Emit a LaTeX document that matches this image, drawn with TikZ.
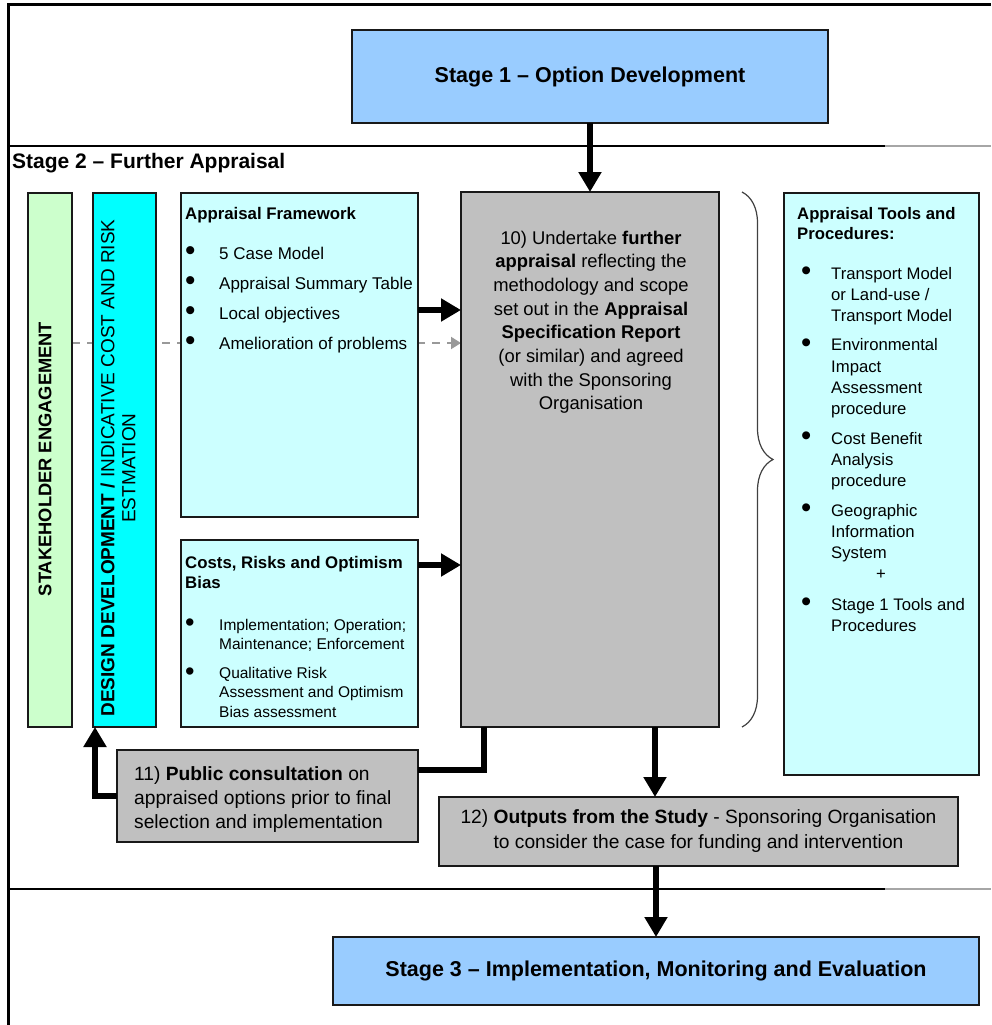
\documentclass[tikz,border=0pt]{standalone}
\usepackage{fontspec}
\setmainfont{Liberation Sans}
\usetikzlibrary{arrows.meta,decorations.pathreplacing,backgrounds,calc}
\definecolor{stageblue}{HTML}{99CCFF}
\definecolor{palecyan}{HTML}{CCFFFF}
\definecolor{palegreen}{HTML}{CCFFCC}
\definecolor{boxgray}{HTML}{C0C0C0}
\definecolor{brightcyan}{HTML}{00FFFF}
\definecolor{edgegray}{HTML}{999999}
\newcommand{\fsz}[2]{\fontsize{#1}{#2}\selectfont}
\newcommand{\blt}{\raisebox{-1.5pt}{\scalebox{1.75}{\textbullet}}}
\begin{document}
\begin{tikzpicture}[x=1pt,y=-1pt,
  box/.style={draw=black!90, line width=1.6pt, anchor=north west, inner sep=0pt, outer sep=0pt},
  txt/.style={anchor=base west, inner sep=0pt},
  arr/.style={line width=6.5pt, -{Triangle[width=22pt,length=20pt]}},
  thickline/.style={line width=6.5pt},
  dashedarr/.style={line width=2pt, draw=edgegray, dash pattern=on 8pt off 7pt, -{Triangle[width=12pt,length=10pt]}},
  sep/.style={line width=1.5pt},
  sepfade/.style={line width=1.5pt, draw=black!35}
]
\useasboundingbox (0,0) rectangle (991,1025);
% frame
\draw[line width=3pt] (8,1025) -- (8,5) -- (991,5);
\draw[sep] (8,146) -- (885,146);
\draw[sepfade] (885,146) -- (991,146);
\draw[sep] (8,889) -- (885,889);
\draw[sepfade] (885,889) -- (991,889);

% stage 1
\node[box, fill=stageblue, minimum width=476pt, minimum height=93pt, font=\bfseries\fsz{21.5}{25}] (s1) at (352,30) {Stage 1 – Option Development};
\node[txt, font=\bfseries\fsz{21}{24}] (st2) at (12,168) {Stage 2 – Further Appraisal};

% vertical bars
\node[box, fill=palegreen, minimum width=44pt, minimum height=534pt] (sh) at (28,193) {};
\node[rotate=90, font=\bfseries\fsz{18.3}{21}, inner sep=0pt] (sht) at (45,459) {STAKEHOLDER ENGAGEMENT};
\node[box, fill=brightcyan, minimum width=63pt, minimum height=534pt] (dd) at (93,193) {};
\node[rotate=90, align=center, font=\fsz{19}{21}, inner sep=0pt] (ddt) at (118,468) {\textbf{DESIGN DEVELOPMENT /} INDICATIVE COST AND RISK\\ESTMATION};

% appraisal framework
\node[box, fill=palecyan, minimum width=237pt, minimum height=324pt] (af) at (181,193) {};
\node[txt, font=\bfseries\fsz{16.8}{20}] (aft) at (185,219) {Appraisal Framework};
\node[txt, font=\fsz{17}{30}] (afl) at (185,259) {\begin{tabular}[t]{@{}p{34pt}@{}l@{}}
\blt & 5 Case Model\\
\blt & Appraisal Summary Table\\
\blt & Local objectives\\
\blt & Amelioration of problems
\end{tabular}};

% costs
\node[box, fill=palecyan, minimum width=237pt, minimum height=187pt] (cr) at (181,540) {};
\node[txt, font=\bfseries\fsz{16.8}{20}] (crt) at (185,568) {\begin{tabular}[t]{@{}l@{}}Costs, Risks and Optimism\\Bias\end{tabular}};
\node[txt, font=\fsz{15.5}{19.3}] (crl) at (185,630) {\begin{tabular}[t]{@{}p{34pt}@{}l@{}}
\blt & Implementation; Operation;\\
 & Maintenance; Enforcement\\[10pt]
\blt & Qualitative Risk\\
 & Assessment and Optimism\\
 & Bias assessment
\end{tabular}};

% central box
\node[box, fill=boxgray, minimum width=258pt, minimum height=535pt] (c) at (461,192) {};
\node[anchor=base, inner sep=0pt, font=\fsz{18.4}{23.7}] (ct) at (591,244) {\begin{tabular}[t]{@{}c@{}}
10) Undertake \textbf{further}\\
\textbf{appraisal} reflecting the\\
methodology and scope\\
set out in the \textbf{Appraisal}\\
\textbf{Specification Report}\\
(or similar) and agreed\\
with the Sponsoring\\
Organisation
\end{tabular}};

% tools box
\node[box, fill=palecyan, minimum width=195pt, minimum height=582pt] (tb) at (784,193) {};
\node[txt, font=\bfseries\fsz{16.7}{20}] (tbt) at (797,219) {\begin{tabular}[t]{@{}l@{}}Appraisal Tools and\\Procedures:\end{tabular}};
\node[txt, font=\fsz{16.7}{21.3}] (tbl) at (801,279) {\begin{tabular}[t]{@{}p{30pt}@{}l@{}}
\blt & Transport Model\\
 & or Land-use /\\
 & Transport Model\\[8pt]
\blt & Environmental\\
 & Impact\\
 & Assessment\\
 & procedure\\[8pt]
\blt & Cost Benefit\\
 & Analysis\\
 & procedure\\[8pt]
\blt & Geographic\\
 & Information\\
 & System\\
\multicolumn{2}{@{}l@{}}{\hspace{75pt}+}\\[9pt]
\blt & Stage 1 Tools and\\
 & Procedures
\end{tabular}};

% brace
\draw[decorate, decoration={brace, amplitude=31pt}, line width=1.2pt, draw=black!75] ([xshift=23pt]c.north east) -- ([xshift=23pt]c.south east);

% box 11
\node[box, fill=boxgray, minimum width=301pt, minimum height=92pt] (b11) at (117,750) {};
\node[txt, font=\fsz{19.2}{24}] (b11t) at (134,780) {\begin{tabular}[t]{@{}l@{}}
11) \textbf{Public consultation} on\\
appraised options prior to final\\
selection and implementation
\end{tabular}};

% box 12
\node[box, fill=boxgray, minimum width=519pt, minimum height=69pt, align=center, font=\fsz{19.2}{25}] (b12) at (439,797) {12) \textbf{Outputs from the Study} - Sponsoring Organisation\\to consider the case for funding and intervention};

% stage 3
\node[box, fill=stageblue, minimum width=646pt, minimum height=68pt, font=\bfseries\fsz{21.5}{25}] (s3) at (333,937) {Stage 3 – Implementation, Monitoring and Evaluation};

% connectors
\begin{scope}[on background layer]
\draw[dashedarr] ([yshift=117pt]sh.east) -- ([yshift=117pt]sh.east -| c.west);
\end{scope}
\draw[arr] (s1.south) -- (c.north);
\draw[arr] ([yshift=45pt]af.east) -- ([yshift=45pt]af.east -| c.west);
\draw[arr] ([yshift=68.5pt]cr.east) -- ([yshift=68.5pt]cr.east -| c.west);
\draw[thickline] ([xshift=23pt]c.south west) |- ([yshift=26pt]b11.east);
\draw[arr] (b11.west) -| ([xshift=2pt]dd.south west);
\coordinate (cout) at ([xshift=194pt]c.south west);
\draw[arr] (cout) -- (cout |- b12.north);
\draw[arr] (b12.south -| s3.north) -- (s3.north);
\end{tikzpicture}
\end{document}
